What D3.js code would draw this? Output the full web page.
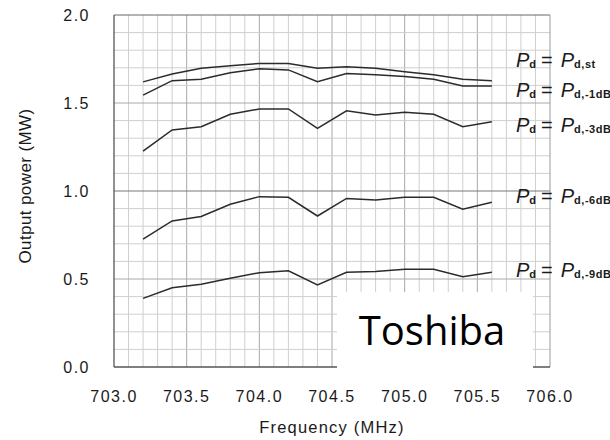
<!DOCTYPE html>
<html>
<head>
<meta charset="utf-8">
<script src="https://cdn.jsdelivr.net/npm/d3@7"></script>
<style>
  body { margin: 0; background: #fff; }
  text { font-family: "Liberation Sans", Arial, sans-serif; fill: #1a1a1a; }
</style>
</head>
<body>
<svg id="chart" width="610" height="440"></svg>
<script>
// data
const freqs = [703.2, 703.4, 703.6, 703.8, 704.0, 704.2, 704.4, 704.6, 704.8, 705.0, 705.2, 705.4, 705.6]
const p_st  = [1.62, 1.665, 1.697, 1.712, 1.725, 1.725, 1.697, 1.706, 1.697, 1.678, 1.66, 1.635, 1.627]
const p_1dB = [1.545, 1.627, 1.635, 1.672, 1.695, 1.688, 1.621, 1.668, 1.66, 1.65, 1.635, 1.597, 1.597]
const p_3dB = [1.227, 1.347, 1.365, 1.436, 1.466, 1.466, 1.356, 1.456, 1.432, 1.447, 1.436, 1.365, 1.394]
const p_6dB = [0.727, 0.83, 0.855, 0.925, 0.968, 0.964, 0.858, 0.958, 0.949, 0.964, 0.964, 0.896, 0.936]
const p_9dB = [0.39, 0.45, 0.47, 0.504, 0.536, 0.547, 0.466, 0.538, 0.542, 0.555, 0.555, 0.513, 0.538]
const series = [p_st, p_1dB, p_3dB, p_6dB, p_9dB]
const series_names = ["st", "-1dB", "-3dB", "-6dB", "-9dB"]
const label_values = [1.705, 1.535, 1.337, 0.932, 0.511]
const x_ticks = [703.0, 703.5, 704.0, 704.5, 705.0, 705.5, 706.0]
const y_ticks = [0.0, 0.5, 1.0, 1.5, 2.0]

const margin = { left: 114, top: 15, right: 60, bottom: 73 }
const width = 610 - margin.left - margin.right
const height = 440 - margin.top - margin.bottom

function make_scales() {
  return {
    x: d3.scaleLinear().domain([703, 706]).range([0, width]),
    y: d3.scaleLinear().domain([0, 2]).range([height, 0])
  }
}

const svg = d3.select("#chart")
const g = svg.append("g").attr("transform", `translate(${margin.left},${margin.top})`)
const scales = make_scales()

// grid
const is_half = d => Math.abs(d * 2 - Math.round(d * 2)) < 1e-6
const minor_x = d3.range(1, 30).map(i => 703 + i * 0.1)
const minor_y = d3.range(1, 20).map(i => i * 0.1)
g.append("g").selectAll("line")
  .data(minor_x).enter()
  .append("line")
  .attr("x1", d => scales.x(d)).attr("x2", d => scales.x(d))
  .attr("y1", 0).attr("y2", height)
  .attr("stroke", d => is_half(d) ? "#a8a8a8" : "#cfcfcf")
g.append("g").selectAll("line")
  .data(minor_y).enter()
  .append("line")
  .attr("x1", 0).attr("x2", width)
  .attr("y1", d => scales.y(d)).attr("y2", d => scales.y(d))
  .attr("stroke", d => Math.abs(d - 1) < 1e-6 ? "#777" : (is_half(d) ? "#a8a8a8" : "#cfcfcf"))

// frame
g.append("line").attr("x1", 0).attr("x2", width).attr("y1", 0).attr("y2", 0).attr("stroke", "#666")
g.append("line").attr("x1", width).attr("x2", width).attr("y1", 0).attr("y2", height).attr("stroke", "#999")
g.append("line").attr("x1", 0).attr("x2", 0).attr("y1", 0).attr("y2", height).attr("stroke", "#555").attr("stroke-width", 1.3)
g.append("line").attr("x1", 0).attr("x2", width).attr("y1", height).attr("y2", height).attr("stroke", "#555").attr("stroke-width", 1.3)

// curves
const line = d3.line()
  .x((d, i) => scales.x(freqs[i]))
  .y(d => scales.y(d))
g.append("g").selectAll("path")
  .data(series).enter()
  .append("path")
  .attr("d", line)
  .attr("fill", "none")
  .attr("stroke", "#2b2b2b")
  .attr("stroke-width", 1.5)

// tick labels
g.append("g").selectAll("text")
  .data(x_ticks).enter()
  .append("text")
  .attr("x", d => scales.x(d))
  .attr("y", height + 35)
  .attr("text-anchor", "middle")
  .style("font-size", "16px")
  .style("letter-spacing", "1.5px")
  .text(d => d3.format(".1f")(d))
g.append("g").selectAll("text")
  .data(y_ticks).enter()
  .append("text")
  .attr("x", -24)
  .attr("y", d => scales.y(d))
  .attr("dy", "0.36em")
  .attr("text-anchor", "end")
  .style("font-size", "16px")
  .style("letter-spacing", "1.5px")
  .text(d => d3.format(".1f")(d))

// axis titles
svg.append("text")
  .attr("x", margin.left + scales.x(704.5))
  .attr("y", 433)
  .attr("text-anchor", "middle")
  .style("font-size", "16.5px")
  .style("letter-spacing", "1.2px")
  .text("Frequency (MHz)")
svg.append("text")
  .attr("transform", "translate(31,186) rotate(-90)")
  .attr("text-anchor", "middle")
  .style("font-size", "17px")
  .style("letter-spacing", "0.4px")
  .text("Output power (MW)")

// curve labels
const labels = svg.append("g").selectAll("text")
  .data(series_names).enter()
  .append("text")
  .attr("x", 516)
  .attr("y", (d, i) => margin.top + scales.y(label_values[i]))
  .style("font-size", "20px")
labels.append("tspan").style("font-style", "italic").text("P")
labels.append("tspan").attr("dy", 1).style("font-size", "11px").style("font-weight", "bold").text("d")
labels.append("tspan").attr("dy", -1).attr("dx", 5).text("=")
labels.append("tspan").attr("dx", 8).style("font-style", "italic").text("P")
labels.append("tspan").attr("dy", 1).style("font-size", "11px").style("font-weight", "bold")
  .style("letter-spacing", "0.5px")
  .text(d => "d," + d)

// Toshiba watermark box
svg.append("rect")
  .attr("x", 337).attr("y", 292)
  .attr("width", 196).attr("height", 78)
  .attr("fill", "#fff")
svg.append("text")
  .attr("x", 432).attr("y", 345)
  .attr("text-anchor", "middle")
  .style("font-family", "'Open Sans', 'Noto Sans', sans-serif")
  .style("font-size", "40px")
  .style("fill", "#000")
  .text("Toshiba")
</script>
</body>
</html>
